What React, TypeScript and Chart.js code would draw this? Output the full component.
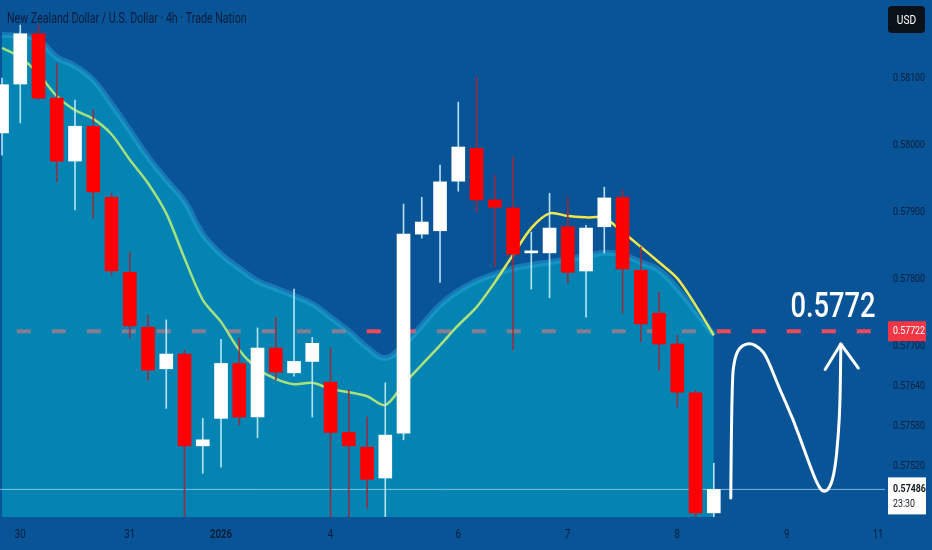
import React, { useEffect, useRef } from 'react';
import { Chart, registerables } from 'chart.js';

Chart.register(...registerables);

// ---- data (4h candles, NZD/USD) ----
const opens = [0.58018, 0.58091, 0.58166, 0.5807, 0.57976, 0.58028, 0.57922, 0.5781, 0.57728, 0.57666, 0.57688, 0.57551, 0.57592, 0.57674, 0.57594, 0.57697, 0.5766, 0.57677, 0.57646, 0.57571, 0.57549, 0.57503, 0.5757, 0.57867, 0.57872, 0.57946, 0.57995, 0.57918, 0.57906, 0.57839, 0.57839, 0.57878, 0.57812, 0.57878, 0.57922, 0.57813, 0.57749, 0.57703, 0.5763, 0.57451];
const closes = [0.5809, 0.58166, 0.5807, 0.57976, 0.58028, 0.5793, 0.57812, 0.5773, 0.57664, 0.57688, 0.57551, 0.5756, 0.57674, 0.57594, 0.57697, 0.57661, 0.57677, 0.57704, 0.57571, 0.57551, 0.57501, 0.57567, 0.57867, 0.57885, 0.57945, 0.57997, 0.57918, 0.57907, 0.57837, 0.57842, 0.57876, 0.5781, 0.57876, 0.57921, 0.57815, 0.57733, 0.57703, 0.57631, 0.57451, 0.57486];
const highs = [0.581, 0.58179, 0.58179, 0.58122, 0.58067, 0.58052, 0.57928, 0.5784, 0.57746, 0.57739, 0.57694, 0.57592, 0.5771, 0.57712, 0.57727, 0.57743, 0.57785, 0.57713, 0.57697, 0.57634, 0.57594, 0.57645, 0.57912, 0.57922, 0.5797, 0.58064, 0.58101, 0.57955, 0.57982, 0.5787, 0.57928, 0.57922, 0.5788, 0.57937, 0.57933, 0.57848, 0.5778, 0.57716, 0.57634, 0.57525];
const lows = [0.57985, 0.58033, 0.58068, 0.57945, 0.57903, 0.57891, 0.57806, 0.57712, 0.57649, 0.57607, 0.5743, 0.5751, 0.57519, 0.57582, 0.57563, 0.57649, 0.57655, 0.57594, 0.5743, 0.5743, 0.57458, 0.5743, 0.5756, 0.57861, 0.57795, 0.57931, 0.579, 0.57818, 0.57694, 0.57785, 0.57772, 0.57794, 0.57743, 0.57839, 0.57749, 0.57706, 0.57664, 0.57609, 0.5744, 0.5744];
const maValues = [0.58145, 0.58131, 0.58106, 0.58073, 0.58052, 0.58039, 0.58016, 0.57978, 0.57943, 0.57898, 0.57831, 0.57769, 0.57736, 0.57694, 0.57666, 0.57651, 0.57643, 0.57645, 0.57636, 0.57631, 0.57625, 0.57612, 0.57643, 0.57672, 0.57701, 0.57731, 0.57758, 0.57795, 0.57836, 0.57876, 0.57898, 0.57894, 0.57892, 0.57891, 0.5787, 0.57848, 0.57825, 0.57801, 0.57761, 0.57716];
const bandTop = [0.58164, 0.58163, 0.58157, 0.58131, 0.58118, 0.58097, 0.58061, 0.58022, 0.57982, 0.57948, 0.57916, 0.57867, 0.57837, 0.57816, 0.57797, 0.57786, 0.57775, 0.57763, 0.57743, 0.57722, 0.57698, 0.57682, 0.57701, 0.57731, 0.57761, 0.57782, 0.57797, 0.57807, 0.57816, 0.57821, 0.57825, 0.5783, 0.57834, 0.57839, 0.57836, 0.57825, 0.57813, 0.57786, 0.57752, 0.57716];

const xTickPos = [1, 7, 12, 18, 25, 31, 37, 43, 48];
const xTickLabels = ['30', '31', '2026', '4', '6', '7', '8', '9', '11'];
const yTickValues = [0.581, 0.58, 0.579, 0.578, 0.577, 0.5764, 0.5758, 0.5752];

const targetPrice = 0.57722;
const targetText = '0.5772';
const lastPrice = 0.57486;
const lastTime = '23:30';
const titleText = 'New Zealand Dollar / U.S. Dollar · 4h · Trade Nation';
const currencyText = 'USD';

// hand-drawn projection path (candle index, price)
const pathIdx = [39.93, 39.98, 40.16, 40.44, 40.99, 41.53, 41.9, 42.63, 43.36, 44.09, 44.64, 45.0, 45.37, 45.64, 45.82, 45.92, 45.96];
const pathPrice = [0.57473, 0.57649, 0.57684, 0.57699, 0.57705, 0.57697, 0.57684, 0.57634, 0.5759, 0.57535, 0.57495, 0.57481, 0.57488, 0.57515, 0.57565, 0.57615, 0.57703];
const arrowIdx = [45.1, 45.96, 46.92];
const arrowPrice = [0.57665, 0.57703, 0.57667];
const targetLabelIdx = 45.53;
const targetLabelPrice = 0.57743;

const X_MIN = -0.11;
const X_MAX = 48.38;
const Y_MIN = 0.574448;
const Y_MAX = 0.582164;

const BG = 'rgb(8,84,150)';
const AXIS_TEXT = '#0d1d3a';
const FONT = "Roboto, 'Noto Sans', sans-serif";

const isUp = (i: number) => closes[i] >= opens[i];

function squeezedText(
  c: CanvasRenderingContext2D,
  text: string,
  x: number,
  y: number,
  font: string,
  color: string,
  align: CanvasTextAlign,
  sx: number,
) {
  c.save();
  c.translate(x, y);
  c.scale(sx, 1);
  c.font = font;
  c.fillStyle = color;
  c.textAlign = align;
  c.textBaseline = 'middle';
  c.fillText(text, 0, 0);
  c.restore();
}

const overlayPlugin = {
  id: 'overlay',
  beforeDraw(chart: any) {
    const c = chart.ctx;
    c.save();
    c.fillStyle = BG;
    c.fillRect(0, 0, chart.width, chart.height);
    c.restore();
  },
  afterDraw(chart: any) {
    const c = chart.ctx as CanvasRenderingContext2D;
    const xs = chart.scales.x;
    const ys = chart.scales.y;
    const area = chart.chartArea;
    c.save();

    // axis tick labels (narrow, like the reference)
    xs.ticks.forEach((t: any, i: number) => {
      const lab = xTickLabels[i];
      squeezedText(
        c,
        lab,
        xs.getPixelForValue(t.value),
        area.bottom + 18,
        `${lab === '2026' ? 'bold ' : ''}12px ${FONT}`,
        AXIS_TEXT,
        'center',
        0.8,
      );
    });
    ys.ticks.forEach((t: any) => {
      squeezedText(c, Number(t.value).toFixed(5), area.right + 8, ys.getPixelForValue(t.value), `11px ${FONT}`, AXIS_TEXT, 'left', 0.8);
    });

    // hand-drawn projection curve
    const pts = pathIdx.map((v, k) => [xs.getPixelForValue(v), ys.getPixelForValue(pathPrice[k])]);
    c.strokeStyle = '#ffffff';
    c.lineWidth = 3;
    c.lineCap = 'round';
    c.lineJoin = 'round';
    c.beginPath();
    c.moveTo(pts[0][0], pts[0][1]);
    for (let k = 1; k < pts.length - 1; k++) {
      const mx = (pts[k][0] + pts[k + 1][0]) / 2;
      const my = (pts[k][1] + pts[k + 1][1]) / 2;
      c.quadraticCurveTo(pts[k][0], pts[k][1], mx, my);
    }
    c.lineTo(pts[pts.length - 1][0], pts[pts.length - 1][1]);
    c.stroke();
    const ap = arrowIdx.map((v, k) => [xs.getPixelForValue(v), ys.getPixelForValue(arrowPrice[k])]);
    c.beginPath();
    c.moveTo(ap[0][0], ap[0][1]);
    c.lineTo(ap[1][0], ap[1][1]);
    c.lineTo(ap[2][0], ap[2][1]);
    c.stroke();

    // big target label
    c.save();
    c.translate(xs.getPixelForValue(targetLabelIdx), ys.getPixelForValue(targetLabelPrice));
    c.scale(0.78, 1);
    c.fillStyle = '#ffffff';
    c.font = `500 35px ${FONT}`;
    c.textAlign = 'center';
    c.textBaseline = 'alphabetic';
    c.fillText(targetText, 0, 0);
    c.restore();

    const boxL = area.right + 3;
    const boxW = 38;

    // red target price box
    const ty = ys.getPixelForValue(targetPrice);
    c.fillStyle = 'rgb(242,54,69)';
    c.fillRect(boxL, ty - 10, boxW, 20);
    squeezedText(c, targetPrice.toFixed(5), boxL + 5, ty, `11px ${FONT}`, '#ffffff', 'left', 0.8);

    // last price box
    const ly = ys.getPixelForValue(lastPrice);
    c.fillStyle = '#ffffff';
    c.fillRect(boxL, ly - 12, boxW, 37);
    squeezedText(c, lastPrice.toFixed(5), boxL + 5, ly, `bold 11px ${FONT}`, '#101820', 'left', 0.8);
    squeezedText(c, lastTime, boxL + 5, ly + 15, `11px ${FONT}`, '#101820', 'left', 0.8);

    // currency box
    c.fillStyle = '#0b1118';
    const ux = boxL, uy = 6, uw = 37, uh = 27, r = 4;
    c.beginPath();
    c.moveTo(ux + r, uy);
    c.arcTo(ux + uw, uy, ux + uw, uy + uh, r);
    c.arcTo(ux + uw, uy + uh, ux, uy + uh, r);
    c.arcTo(ux, uy + uh, ux, uy, r);
    c.arcTo(ux, uy, ux + uw, uy, r);
    c.closePath();
    c.fill();
    squeezedText(c, currencyText, ux + uw / 2, uy + uh / 2 + 1, `12px ${FONT}`, '#ffffff', 'center', 0.85);

    // title
    squeezedText(c, titleText, 7, 19, `14px ${FONT}`, AXIS_TEXT, 'left', 0.76);

    c.restore();
  },
};

export default function App() {
  const ref = useRef<HTMLCanvasElement | null>(null);

  useEffect(() => {
    if (!ref.current) return;
    const idx = opens.map((_, i) => i);
    const chart = new Chart(ref.current, {
      type: 'bar',
      data: {
        datasets: [
          {
            type: 'bar',
            label: 'body',
            data: idx.map((i) => ({ x: i, y: [opens[i], closes[i]] })) as any,
            backgroundColor: idx.map((i) => (isUp(i) ? '#ffffff' : '#ff0000')),
            barThickness: 13,
            grouped: false,
            minBarLength: 1,
            borderWidth: 0,
            order: 0,
          } as any,
          {
            type: 'bar',
            label: 'wick',
            data: idx.map((i) => ({ x: i, y: [lows[i], highs[i]] })) as any,
            backgroundColor: idx.map((i) => (isUp(i) ? 'rgba(185,230,250,0.95)' : 'rgba(160,40,55,0.9)')),
            barThickness: 1,
            grouped: false,
            borderWidth: 0,
            order: 1,
          } as any,
          {
            type: 'line',
            label: 'ma',
            data: idx.map((i) => ({ x: i, y: maValues[i] })),
            borderColor: (ctx: any) => {
              const ch = ctx.chart;
              const a = ch.chartArea;
              if (!a) return '#a4e07c';
              const g = ch.ctx.createLinearGradient(a.left, 0, a.right, 0);
              g.addColorStop(0, '#9fe07e');
              g.addColorStop(0.54, '#aee27a');
              g.addColorStop(0.59, '#f2e64a');
              g.addColorStop(0.77, '#f2e64a');
              g.addColorStop(0.81, '#c9e86a');
              g.addColorStop(1, '#c9e86a');
              return g;
            },
            borderWidth: 2.5,
            pointRadius: 0,
            tension: 0.3,
            fill: false,
            order: 2,
          } as any,
          {
            type: 'line',
            label: 'last',
            data: [
              { x: X_MIN - 1, y: lastPrice },
              { x: X_MAX + 1, y: lastPrice },
            ],
            borderColor: 'rgba(170,215,240,0.75)',
            borderWidth: 1,
            pointRadius: 0,
            fill: false,
            order: 3,
          } as any,
          {
            type: 'line',
            label: 'band',
            data: idx.map((i) => ({ x: i, y: bandTop[i] })),
            borderColor: 'rgba(50,180,225,0.38)',
            backgroundColor: 'rgba(0,190,215,0.45)',
            borderWidth: 6,
            pointRadius: 0,
            tension: 0.4,
            fill: 'start',
            order: 4,
          } as any,
          {
            type: 'line',
            label: 'target',
            data: [
              { x: X_MIN - 1, y: targetPrice },
              { x: X_MAX + 1, y: targetPrice },
            ],
            borderColor: 'rgb(242,72,92)',
            borderDash: [14, 21],
            borderWidth: 4,
            pointRadius: 0,
            fill: false,
            order: 5,
          } as any,
        ],
      },
      options: {
        responsive: false,
        animation: false,
        layout: { padding: 0 },
        plugins: {
          legend: { display: false },
          tooltip: { enabled: false },
          title: { display: false },
        },
        scales: {
          x: {
            type: 'linear',
            min: X_MIN,
            max: X_MAX,
            offset: false,
            grid: { display: false, drawTicks: false },
            border: { display: false },
            afterBuildTicks: (axis: any) => {
              axis.ticks = xTickPos.map((v) => ({ value: v }));
            },
            afterFit: (axis: any) => {
              axis.height = 33;
            },
            ticks: {
              display: false,
              autoSkip: false,
              maxRotation: 0,
              callback: (_v: any, i: number) => xTickLabels[i],
            },
          },
          y: {
            type: 'linear',
            position: 'right',
            min: Y_MIN,
            max: Y_MAX,
            beginAtZero: false,
            grid: { display: false, drawTicks: false },
            border: { display: false },
            afterBuildTicks: (axis: any) => {
              axis.ticks = yTickValues.map((v) => ({ value: v }));
            },
            afterFit: (axis: any) => {
              axis.width = 47;
            },
            ticks: {
              display: false,
              callback: (v: any) => Number(v).toFixed(5),
            },
          },
        },
      } as any,
      plugins: [overlayPlugin],
    });
    return () => chart.destroy();
  }, []);

  return (
    <div style={{ position: 'absolute', left: 0, top: 0, width: 932, height: 550 }}>
      <canvas ref={ref} width={932} height={550} />
    </div>
  );
}
